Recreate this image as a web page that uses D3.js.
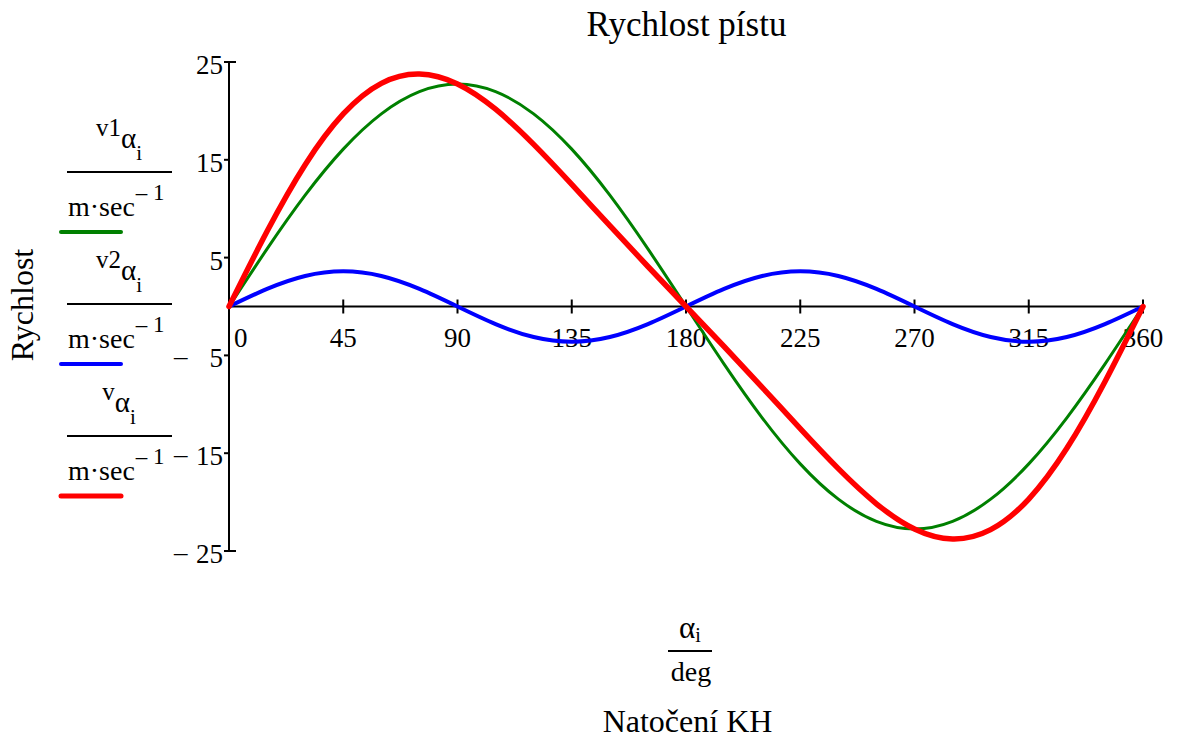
<!DOCTYPE html>
<html><head><meta charset="utf-8">
<script src="https://cdn.jsdelivr.net/npm/d3@7"></script>
<style>
html,body{margin:0;padding:0;background:#fff;}
svg text{font-family:"Liberation Serif","Times New Roman",serif;fill:#000;}
</style></head>
<body>
<svg id="chart" width="1184" height="743"></svg>
<script>
// Data (angle in degrees, velocities in m/s)
const alpha = [0,15,30,45,60,75,90,105,120,135,150,165,180,195,210,225,240,255,270,285,300,315,330,345,360];
const v1 = [0,5.89,11.38,16.09,19.70,21.97,22.75,21.97,19.70,16.09,11.38,5.89,0,-5.89,-11.38,-16.09,-19.70,-21.97,-22.75,-21.97,-19.70,-16.09,-11.38,-5.89,0];
const v2 = [0,1.80,3.12,3.60,3.12,1.80,0,-1.80,-3.12,-3.60,-3.12,-1.80,0,1.80,3.12,3.60,3.12,1.80,0,-1.80,-3.12,-3.60,-3.12,-1.80,0];
const v  = [0,7.69,14.50,19.69,22.82,23.77,22.75,20.17,16.58,12.49,8.26,4.09,0,-4.09,-8.26,-12.49,-16.58,-20.17,-22.75,-23.77,-22.82,-19.69,-14.50,-7.69,0];
const xTicks = [0,45,90,135,180,225,270,315,360];
const yTicks = [25,15,5,-5,-15,-25];
const seriesNames = ["v1","v2","v"];
const seriesColors = ["#008000","#0000ff","#ff0000"];
const seriesWidths = [3,4,5.5];
const titleText = "Rychlost pístu";
const yTitle = "Rychlost";
const xTitle = "Natočení KH";

const svg = d3.select("#chart");
const x = d3.scaleLinear().domain([0,360]).range([229,1143]);
const y = d3.scaleLinear().domain([-25,25]).range([551,62]);

// Title
svg.append("text").attr("x",686.5).attr("y",36).attr("text-anchor","middle")
  .style("font-size","35px").text(titleText);

// Y axis
const gy = svg.append("g");
gy.append("line").attr("x1",x(0)).attr("x2",x(0)).attr("y1",y(25)).attr("y2",y(-25))
  .attr("stroke","#000").attr("stroke-width",2);
yTicks.forEach(t=>{
  const end = (t===25||t===-25);
  gy.append("line").attr("x1",x(0)-5).attr("x2",end?x(0)+7:x(0)).attr("y1",y(t)).attr("y2",y(t))
    .attr("stroke","#000").attr("stroke-width",2);
  gy.append("text").attr("x",223).attr("y",y(t)+12).attr("text-anchor","end")
    .style("font-size","27px").text(Math.abs(t));
  if(t<0){
    gy.append("text").attr("x",174).attr("y",y(t)+10).attr("text-anchor","start")
      .style("font-size","27px").text("\u2013");
  }
});

// X axis at y=0
const gx = svg.append("g");
gx.append("line").attr("x1",x(0)).attr("x2",x(360)).attr("y1",y(0)).attr("y2",y(0))
  .attr("stroke","#000").attr("stroke-width",2);
xTicks.forEach(t=>{
  if(t>0){
    gx.append("line").attr("x1",x(t)).attr("x2",x(t)).attr("y1",y(0)-7).attr("y2",y(0)+7)
      .attr("stroke","#000").attr("stroke-width",2);
  }
  gx.append("text").attr("x",t===0?x(0)+5:x(t)).attr("y",347)
    .attr("text-anchor",t===0?"start":"middle").style("font-size","27px").text(t);
});

// Curves
const data = [v1,v2,v];
data.forEach((s,k)=>{
  const pts = alpha.map((a,i)=>[a,s[i]]);
  svg.append("path").datum(pts)
    .attr("d",d3.line().x(d=>x(d[0])).y(d=>y(d[1])).curve(d3.curveNatural))
    .attr("fill","none").attr("stroke",seriesColors[k]).attr("stroke-width",seriesWidths[k])
    .attr("stroke-linejoin","round").attr("stroke-linecap","round");
});

// Y-axis title
svg.append("text").attr("transform","translate(33,305) rotate(-90)").attr("text-anchor","middle")
  .style("font-size","32px").text(yTitle);

// Legend fractions
seriesNames.forEach((n,k)=>{
  const ly = 172 + 132*k;
  const num = svg.append("text").attr("x",119).attr("y",ly-36).attr("text-anchor","middle");
  num.append("tspan").style("font-size","25px").text(n);
  num.append("tspan").attr("dy",12).style("font-size","29px").text("\u03B1");
  num.append("tspan").attr("dy",12).style("font-size","21px").text("i");
  svg.append("line").attr("x1",67).attr("x2",172).attr("y1",ly).attr("y2",ly)
    .attr("stroke","#000").attr("stroke-width",2);
  const den = svg.append("text").attr("x",68).attr("y",ly+44).attr("text-anchor","start");
  den.append("tspan").style("font-size","28px").text("m\u00B7sec");
  den.append("tspan").attr("dy",-16).attr("dx",1).style("font-size","23px").text("\u2013 1");
  svg.append("line").attr("x1",61).attr("x2",121).attr("y1",ly+60).attr("y2",ly+60)
    .attr("stroke",seriesColors[k]).attr("stroke-width",k===2?5:4).attr("stroke-linecap","round");
});

// X-axis title (fraction + label)
const xn = svg.append("text").attr("x",690).attr("y",638).attr("text-anchor","middle");
xn.append("tspan").style("font-size","31px").text("\u03B1");
xn.append("tspan").attr("dy",4).style("font-size","20px").text("i");
svg.append("line").attr("x1",668).attr("x2",712).attr("y1",651).attr("y2",651)
  .attr("stroke","#000").attr("stroke-width",2);
svg.append("text").attr("x",691).attr("y",681).attr("text-anchor","middle")
  .style("font-size","28px").text("deg");
svg.append("text").attr("x",687.5).attr("y",732).attr("text-anchor","middle")
  .style("font-size","32px").text(xTitle);
</script>
</body></html>
